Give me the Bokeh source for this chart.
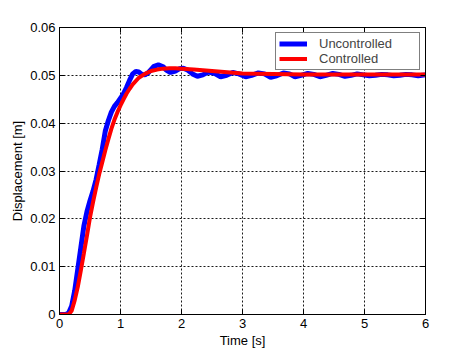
from bokeh.plotting import figure
from bokeh.models import ColumnDataSource, FixedTicker, LinearAxis, Legend, LegendItem, Range1d
from bokeh.embed import file_html
from bokeh.resources import INLINE

# ---- data ----
t_unc = [0.00, 0.10, 0.15, 0.20, 0.25, 0.30, 0.35, 0.40, 0.45, 0.50, 0.55, 0.60, 0.65, 0.70,
         0.75, 0.80, 0.85, 0.90, 0.95, 1.00, 1.05, 1.10, 1.15, 1.20, 1.25, 1.30, 1.35, 1.40,
         1.45, 1.50, 1.55, 1.62, 1.70, 1.75, 1.82, 1.90, 1.97, 2.03, 2.10, 2.18, 2.26, 2.35,
         2.44, 2.54, 2.64, 2.74, 2.84, 2.94, 3.05, 3.15, 3.26, 3.36, 3.46, 3.56, 3.67, 3.77,
         3.86, 3.96, 4.07, 4.17, 4.27, 4.37, 4.48, 4.58, 4.68, 4.78, 4.88, 4.98, 5.08, 5.18,
         5.28, 5.38, 5.48, 5.58, 5.68, 5.78, 5.88, 6.00]
y_unc = [0.0000, 0.0000, 0.0003, 0.0018, 0.0050, 0.0095, 0.0140, 0.0185, 0.0215, 0.0238,
         0.0258, 0.0282, 0.0313, 0.0345, 0.0383, 0.0405, 0.0423, 0.0435, 0.0443, 0.0452,
         0.0462, 0.0475, 0.0490, 0.0503, 0.0508, 0.0507, 0.0502, 0.0501, 0.0505, 0.0512,
         0.0519, 0.0522, 0.0518, 0.0511, 0.0506, 0.0509, 0.0514, 0.0515, 0.0511, 0.0503,
         0.0498, 0.0501, 0.0507, 0.0504, 0.0497, 0.0500, 0.0506, 0.0503, 0.0497, 0.0500,
         0.0505, 0.0503, 0.0496, 0.0499, 0.0505, 0.0503, 0.0497, 0.0500, 0.0504, 0.0502,
         0.0497, 0.0500, 0.0504, 0.0502, 0.0498, 0.0500, 0.0503, 0.0501, 0.0499, 0.0500,
         0.0502, 0.0501, 0.0499, 0.0500, 0.0502, 0.0501, 0.0499, 0.0501]

t_ctl = [0.00, 0.15, 0.20, 0.25, 0.30, 0.35, 0.40, 0.45, 0.50, 0.55, 0.60, 0.65, 0.70, 0.75,
         0.80, 0.85, 0.90, 0.95, 1.00, 1.05, 1.10, 1.15, 1.20, 1.30, 1.40, 1.50, 1.60, 1.70,
         1.80, 1.90, 2.00, 2.20, 2.40, 2.60, 2.80, 3.00, 3.50, 4.00, 4.50, 5.00, 5.50, 6.00]
y_ctl = [0.0000, 0.0000, 0.0008, 0.0030, 0.0058, 0.0092, 0.0128, 0.0165, 0.0203, 0.0235,
         0.0265, 0.0293, 0.0318, 0.0343, 0.0366, 0.0388, 0.0407, 0.0423, 0.0437, 0.0450,
         0.0462, 0.0472, 0.0481, 0.0495, 0.0503, 0.0509, 0.0512, 0.0514, 0.0515, 0.0515,
         0.0514, 0.0512, 0.0510, 0.0508, 0.0506, 0.0504, 0.0503, 0.0502, 0.0502, 0.0502,
         0.0502, 0.0502]

x_ticks = [0, 1, 2, 3, 4, 5, 6]
y_ticks = [0, 0.01, 0.02, 0.03, 0.04, 0.05, 0.06]
y_tick_labels = ["0", "0.01", "0.02", "0.03", "0.04", "0.05", "0.06"]
series_names = ["Uncontrolled", "Controlled"]

FONT = "Liberation Sans"

p = figure(frame_width=366, frame_height=287, output_backend="svg", toolbar_location=None,
           x_range=Range1d(0, 6), y_range=Range1d(0, 0.06),
           min_border_left=59, min_border_right=30, min_border_top=27, min_border_bottom=31)
p.outline_line_color = "black"
p.outline_line_alpha = 1.0
p.background_fill_color = "white"
p.border_fill_color = "white"

src_u = ColumnDataSource(dict(t=t_unc, y=y_unc))
src_c = ColumnDataSource(dict(t=t_ctl, y=y_ctl))
r_u = p.line("t", "y", source=src_u, line_color="#0000FF", line_width=5)
r_c = p.line("t", "y", source=src_c, line_color="#FF0000", line_width=4)

for ax in p.xaxis:
    ax.ticker = FixedTicker(ticks=x_ticks)
for ax in p.yaxis:
    ax.ticker = FixedTicker(ticks=y_ticks)
    ax.major_label_overrides = {v: s for v, s in zip(y_ticks, y_tick_labels)}

p.xaxis.axis_label = "Time [s]"
p.yaxis.axis_label = "Displacement [m]"

for ax in list(p.xaxis) + list(p.yaxis):
    ax.major_tick_in = 5
    ax.major_tick_out = 0
    ax.minor_tick_line_color = None
    ax.axis_line_color = "black"
    ax.major_tick_line_color = "black"
    ax.major_label_text_font = FONT
    ax.major_label_text_font_size = "13px"
    ax.major_label_text_color = "black"
    ax.axis_label_text_font = FONT
    ax.axis_label_text_font_size = "13px"
    ax.axis_label_text_font_style = "normal"
    ax.axis_label_text_color = "black"
    ax.major_label_standoff = 4
    ax.axis_label_standoff = 2

# right and top axes with inward ticks only (labels blank)
ra = LinearAxis(ticker=FixedTicker(ticks=y_ticks),
                major_label_overrides={v: "" for v in y_ticks},
                major_tick_in=5, major_tick_out=0, minor_tick_line_color=None,
                axis_line_color="black", major_label_standoff=0)
ta = LinearAxis(ticker=FixedTicker(ticks=x_ticks),
                major_label_overrides={v: "" for v in x_ticks},
                major_tick_in=5, major_tick_out=0, minor_tick_line_color=None,
                axis_line_color="black", major_label_standoff=0)
p.add_layout(ra, "right")
p.add_layout(ta, "above")

for g in list(p.xgrid) + list(p.ygrid):
    g.grid_line_color = "black"
    g.grid_line_dash = "2 2"
    g.grid_line_alpha = 0.9
    g.grid_line_width = 1

legend = Legend(items=[LegendItem(label=series_names[0], renderers=[r_u]),
                       LegendItem(label=series_names[1], renderers=[r_c])],
                location="top_right", margin=5, padding=3, spacing=0,
                glyph_width=28, glyph_height=15, label_height=15, label_standoff=12,
                label_width=97,
                label_text_font=FONT, label_text_font_size="13px",
                border_line_color="black", border_line_width=1,
                background_fill_color="white", background_fill_alpha=1.0)
p.add_layout(legend)

open("out.html", "w").write(file_html(p, INLINE))
